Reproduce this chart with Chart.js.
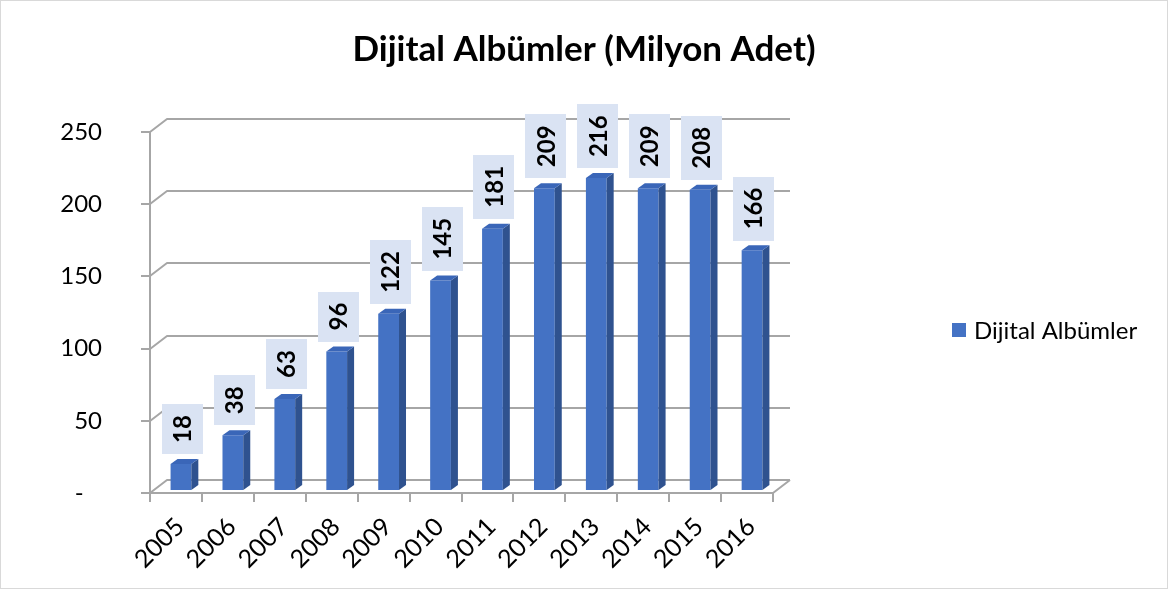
<!DOCTYPE html>
<html>
<head>
<meta charset="utf-8">
<script src="https://cdn.jsdelivr.net/npm/chart.js@4/dist/chart.umd.min.js"></script>
<style>
  body { margin: 0; background: #ffffff; }
  canvas { display: block; }
</style>
</head>
<body>
<canvas id="albumChart" width="1168" height="589"></canvas>
<script>
const years = ["2005", "2006", "2007", "2008", "2009", "2010", "2011", "2012", "2013", "2014", "2015", "2016"];
const digitalAlbums = [18, 38, 63, 96, 122, 145, 181, 209, 216, 209, 208, 166];
const yTickValues = [0, 50, 100, 150, 200, 250];
const seriesName = "Dijital Albümler";
const chartTitle = "Dijital Albümler (Milyon Adet)";

const color = {
  front: "#4472C4",
  side: "#2F528F",
  top: "#3A66B8",
  grid: "#A6A6A6",
  labelBox: "#DAE3F3",
  text: "#000000",
  border: "#D9D9D9"
};

const FONT = "Lato, 'Open Sans', sans-serif";

// 3d look: back wall offset and bar depth
const wallDepth = { dx: 17, dy: -13 };
const barShift = { dx: 5, dy: -3 };
const barDepth = { dx: 7, dy: -5 };

/**
 * draw the back wall gridlines, left wall and floor
 * @param {Object} chart chart instance
 */
function drawWalls(chart) {
  const ctx = chart.ctx;
  const area = chart.chartArea;
  const yScale = chart.scales.y;
  const xScale = chart.scales.x;
  ctx.save();
  ctx.strokeStyle = color.grid;
  ctx.lineWidth = 2;
  ctx.lineJoin = "round";
  yTickValues.forEach((v) => {
    const fy = Math.round(yScale.getPixelForValue(v));
    ctx.beginPath();
    ctx.moveTo(area.left - 9, fy);
    ctx.lineTo(area.left, fy);
    ctx.lineTo(area.left + wallDepth.dx, fy + wallDepth.dy);
    ctx.lineTo(area.right + wallDepth.dx, fy + wallDepth.dy);
    ctx.stroke();
  });
  // left front edge
  ctx.beginPath();
  ctx.moveTo(area.left, area.top);
  ctx.lineTo(area.left, area.bottom);
  ctx.stroke();
  // floor front and right edges
  ctx.beginPath();
  ctx.moveTo(area.left, area.bottom);
  ctx.lineTo(area.right, area.bottom);
  ctx.lineTo(area.right + wallDepth.dx, area.bottom + wallDepth.dy);
  ctx.stroke();
  // category tick marks
  for (let i = 0; i <= years.length; i++) {
    const bx = Math.round(xScale.getPixelForValue(i - 0.5));
    ctx.beginPath();
    ctx.moveTo(bx, area.bottom);
    ctx.lineTo(bx, area.bottom + 9);
    ctx.stroke();
  }
  ctx.restore();
}

/**
 * draw side and top faces of the bars plus the value boxes
 * @param {Object} chart chart instance
 */
function drawBarFaces(chart) {
  const ctx = chart.ctx;
  const meta = chart.getDatasetMeta(0);
  ctx.save();
  ctx.translate(barShift.dx, barShift.dy);
  meta.data.forEach((bar, i) => {
    const p = bar.getProps(["x", "y", "base", "width"], true);
    const left = p.x - p.width / 2;
    const right = p.x + p.width / 2;
    // side
    ctx.fillStyle = color.side;
    ctx.beginPath();
    ctx.moveTo(right, p.y);
    ctx.lineTo(right + barDepth.dx, p.y + barDepth.dy);
    ctx.lineTo(right + barDepth.dx, p.base + barDepth.dy);
    ctx.lineTo(right, p.base);
    ctx.closePath();
    ctx.fill();
    // top
    ctx.fillStyle = color.top;
    ctx.beginPath();
    ctx.moveTo(left, p.y);
    ctx.lineTo(left + barDepth.dx, p.y + barDepth.dy);
    ctx.lineTo(right + barDepth.dx, p.y + barDepth.dy);
    ctx.lineTo(right, p.y);
    ctx.closePath();
    ctx.fill();

    // value label, rotated
    const text = String(digitalAlbums[i]);
    ctx.font = "bold 24px " + FONT;
    const tw = ctx.measureText(text).width;
    const boxH = tw + 22;
    const boxW = 41;
    const cx = p.x + 1.5;
    const boxBottom = p.y - 10;
    ctx.fillStyle = color.labelBox;
    ctx.fillRect(Math.round(cx - boxW / 2), Math.round(boxBottom - boxH), boxW, Math.round(boxH));
    ctx.save();
    ctx.translate(cx, boxBottom - boxH / 2);
    ctx.rotate(-Math.PI / 2);
    ctx.fillStyle = color.text;
    ctx.textAlign = "center";
    ctx.textBaseline = "middle";
    ctx.fillText(text, 0, 1);
    ctx.restore();
  });
  ctx.restore();
}

const threeDPlugin = {
  id: "threeD",
  beforeDraw(chart) {
    const ctx = chart.ctx;
    ctx.save();
    ctx.strokeStyle = color.border;
    ctx.lineWidth = 1;
    ctx.strokeRect(0.5, 0.5, chart.width - 1, chart.height - 1);
    ctx.restore();
  },
  beforeDatasetsDraw(chart) {
    drawWalls(chart);
    chart.ctx.save();
    chart.ctx.translate(barShift.dx, barShift.dy);
  },
  afterDatasetsDraw(chart) {
    chart.ctx.restore();
    drawBarFaces(chart);
  },
  afterDraw(chart) {
    // legend, placed in the space kept free by the right axis
    const ctx = chart.ctx;
    const space = chart.scales.legendSpace;
    const lx = space.left + 179;
    const ly = 331;
    ctx.save();
    ctx.fillStyle = color.front;
    ctx.fillRect(lx, ly - 8, 14, 14);
    ctx.fillStyle = color.text;
    ctx.font = "24px " + FONT;
    ctx.textBaseline = "middle";
    ctx.textAlign = "left";
    ctx.fillText(seriesName, lx + 22, ly);
    ctx.restore();
  }
};

new Chart(document.getElementById("albumChart").getContext("2d"), {
  type: "bar",
  data: {
    labels: years,
    datasets: [
      {
        label: seriesName,
        data: digitalAlbums,
        yAxisID: "y",
        backgroundColor: color.front,
        borderWidth: 0,
        barPercentage: 0.4,
        categoryPercentage: 1
      }
    ]
  },
  options: {
    responsive: false,
    devicePixelRatio: 1,
    animation: false,
    layout: { padding: 0 },
    plugins: {
      title: {
        display: true,
        text: chartTitle,
        color: color.text,
        font: { family: FONT, size: 35, weight: "bold" },
        padding: { top: 29, bottom: 61 }
      },
      legend: { display: false },
      tooltip: { enabled: false }
    },
    scales: {
      x: {
        grid: { display: false, drawTicks: false },
        border: { display: false },
        ticks: {
          color: color.text,
          font: { family: FONT, size: 25 },
          minRotation: 45,
          maxRotation: 45,
          padding: 19,
          labelOffset: 4
        },
        afterFit: (scale) => { scale.height = 96; }
      },
      y: {
        min: 0,
        max: 250,
        grid: { display: false, drawTicks: false },
        border: { display: false },
        afterBuildTicks: (scale) => {
          scale.ticks = yTickValues.map((v) => ({ value: v }));
        },
        ticks: {
          color: color.text,
          font: { family: FONT, size: 24 },
          padding: 48,
          callback: (v) => (v === 0 ? "-   " : v)
        },
        afterFit: (scale) => { scale.width = 150; }
      },
      legendSpace: {
        type: "linear",
        position: "right",
        grid: { display: false, drawTicks: false },
        border: { display: false },
        ticks: { display: false },
        afterFit: (scale) => { scale.width = 395; }
      }
    }
  },
  plugins: [threeDPlugin]
});
</script>
</body>
</html>
